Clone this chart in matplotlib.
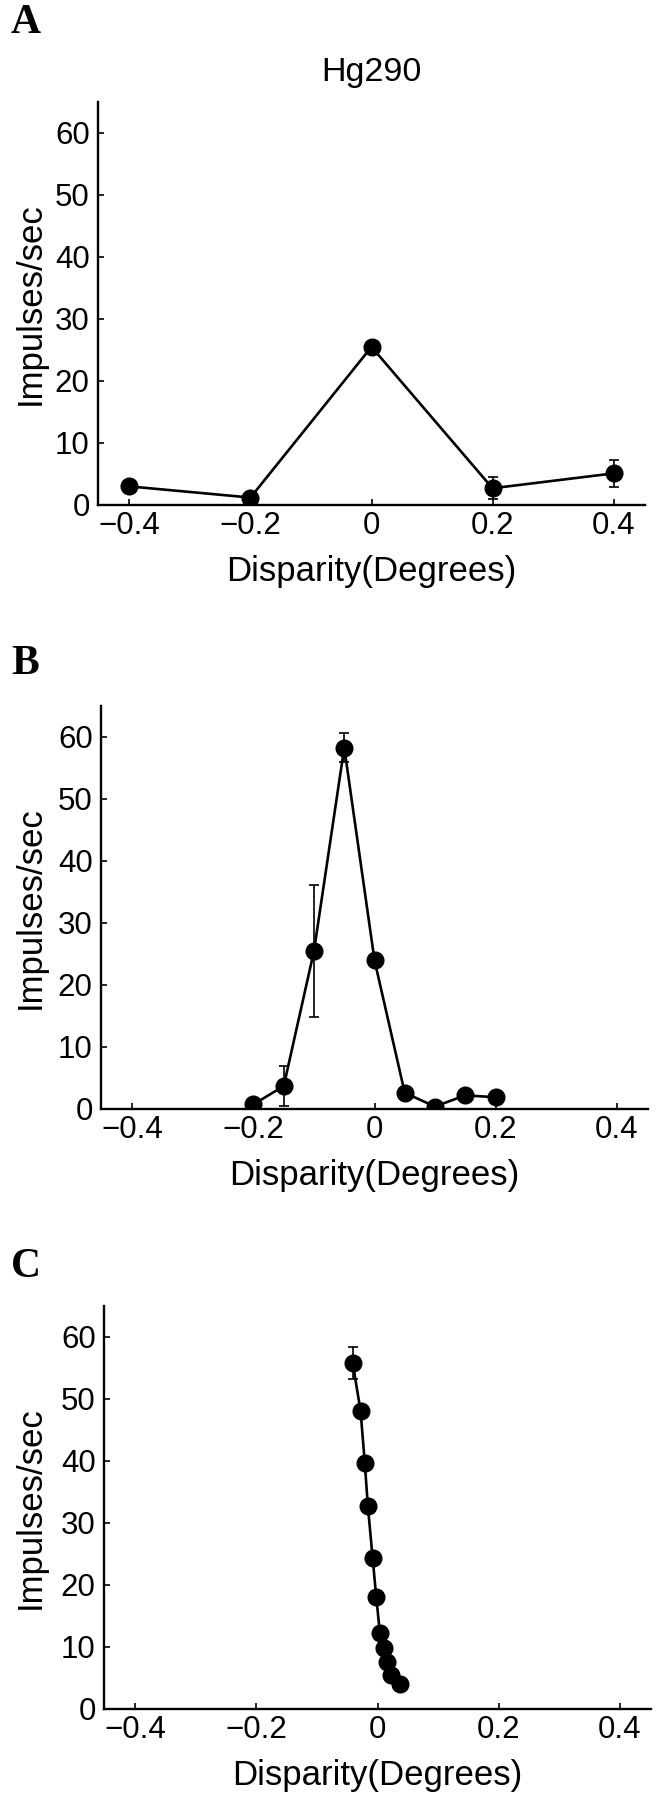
import matplotlib
matplotlib.use("Agg")
import matplotlib.pyplot as plt

# ---- data ----
a_x = [-0.4, -0.2, 0.0, 0.2, 0.4]
a_y = [3.0, 1.2, 25.5, 2.7, 5.1]
a_err = [0.5, 0.5, 0.8, 1.8, 2.2]

b_x = [-0.2, -0.15, -0.1, -0.05, 0.0, 0.05, 0.1, 0.15, 0.2]
b_y = [0.75, 3.7, 25.5, 58.3, 24.0, 2.6, 0.4, 2.2, 1.9]
b_err = [0.5, 3.2, 10.7, 2.3, 1.0, 0.5, 0.3, 0.5, 0.5]

c_x = [-0.041, -0.028, -0.021, -0.016, -0.008, -0.002, 0.004, 0.010, 0.016, 0.023, 0.038]
c_y = [55.8, 48.1, 39.7, 32.8, 24.3, 18.0, 12.2, 9.9, 7.6, 5.5, 4.0]
c_err = [2.6, 0.8, 0.8, 0.8, 0.8, 0.8, 0.6, 0.6, 0.5, 0.5, 0.5]

x_ticks = [-0.4, -0.2, 0, 0.2, 0.4]
x_ticklabels = ["\u22120.4", "\u22120.2", "0", "0.2", "0.4"]
y_ticks = [0, 10, 20, 30, 40, 50, 60]
panel_letters = ["A", "B", "C"]
title_text = "Hg290"
xlabel_text = "Disparity(Degrees)"
ylabel_text = "Impulses/sec"

plt.rcParams['font.family'] = ['Liberation Sans', 'DejaVu Sans']

W, H = 657, 1800
fig = plt.figure(figsize=(W / 100, H / 100), dpi=100)

left_px = [98, 101, 104]
right_px = [645, 648, 651]
axes_h_px = 403
y0_px = [505, 1109, 1709]
letter_y_px = [23, 664, 1267]

datasets = [(a_x, a_y, a_err), (b_x, b_y, b_err), (c_x, c_y, c_err)]

for i, (xs, ys, es) in enumerate(datasets):
    ax_w_px = right_px[i] - left_px[i]
    ax = fig.add_axes([left_px[i] / W, (H - y0_px[i]) / H,
                       ax_w_px / W, axes_h_px / H])
    ax.errorbar(xs, ys, yerr=es, color='black', lw=1.9, marker='o',
                ms=12, mfc='black', mec='black', ecolor='black',
                elinewidth=1.2, capsize=3.5, capthick=1.2, zorder=3)
    ax.set_xlim(-0.452, 0.452)
    ax.set_ylim(0, 65)
    ax.set_xticks(x_ticks)
    ax.set_xticklabels(x_ticklabels)
    ax.set_yticks(y_ticks)
    ax.spines['top'].set_visible(False)
    ax.spines['right'].set_visible(False)
    for s in ('left', 'bottom'):
        ax.spines[s].set_linewidth(1.7)
    ax.tick_params(direction='in', length=4, width=1.2, labelsize=22.5)
    ax.tick_params(axis='x', pad=4)
    ax.tick_params(axis='y', pad=6)
    ax.set_xlabel(xlabel_text, fontsize=25, va='center')
    ax.xaxis.set_label_coords(0.5, -66 / axes_h_px)
    ax.set_ylabel(ylabel_text, fontsize=25, va='center', ha='center')
    ax.yaxis.set_label_coords(-(left_px[i] - 30) / ax_w_px, 0.5)
    fig.text(11 / W, 1 - letter_y_px[i] / H, panel_letters[i],
             family='Liberation Serif', fontweight='bold', fontsize=30,
             ha='left', va='center')
    if i == 0:
        fig.text((left_px[i] + right_px[i]) / 2 / W, 1 - 72 / H, title_text,
                 fontsize=24.5, ha='center', va='center')

fig.savefig("out.png", dpi=100)
